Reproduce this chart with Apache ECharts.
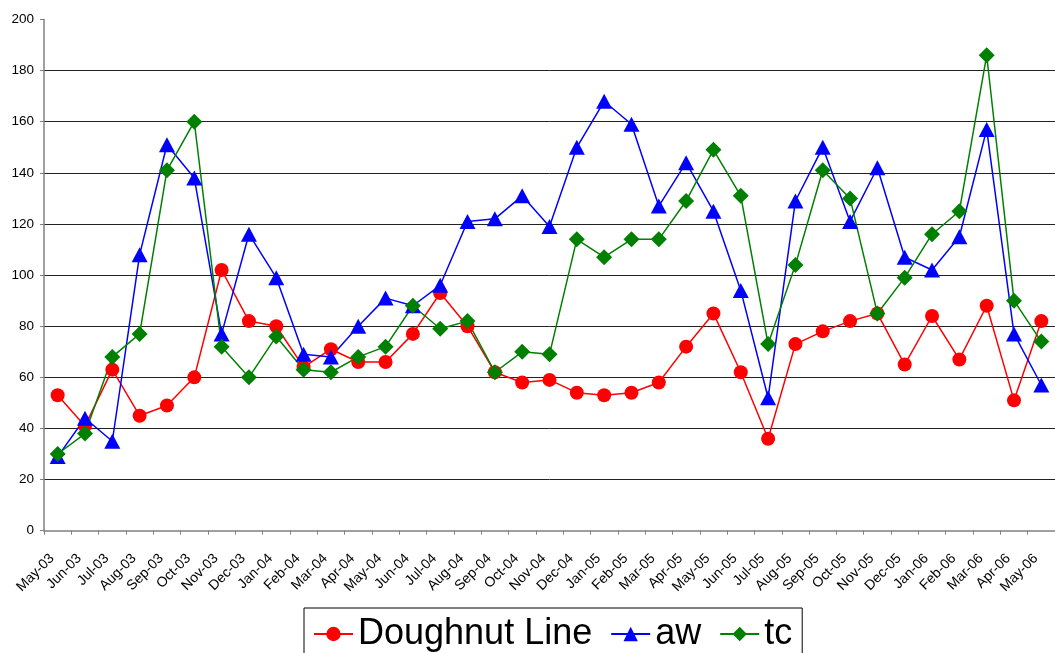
<!DOCTYPE html>
<html>
<head>
<meta charset="utf-8">
<script src="https://cdn.jsdelivr.net/npm/echarts@6/dist/echarts.min.js"></script>
<style>
html,body{margin:0;padding:0;background:#fff;}
#chart{width:1055px;height:653px;}
</style>
</head>
<body>
<div id="chart"></div>
<script>
const categories = ["May-03","Jun-03","Jul-03","Aug-03","Sep-03","Oct-03","Nov-03","Dec-03","Jan-04","Feb-04","Mar-04","Apr-04","May-04","Jun-04","Jul-04","Aug-04","Sep-04","Oct-04","Nov-04","Dec-04","Jan-05","Feb-05","Mar-05","Apr-05","May-05","Jun-05","Jul-05","Aug-05","Sep-05","Oct-05","Nov-05","Dec-05","Jan-06","Feb-06","Mar-06","Apr-06","May-06"];
const doughnutLine = [53,41,63,45,49,60,102,82,80,64,71,66,66,77,93,80,62,58,59,54,53,54,58,72,85,62,36,73,78,82,85,65,84,67,88,51,82];
const aw = [29,44,35,108,151,138,77,116,99,69,68,80,91,88,96,121,122,131,119,150,168,159,127,144,125,94,52,129,150,121,142,107,102,115,157,77,57];
const tc = [30,38,68,77,141,160,72,60,76,63,62,68,72,88,79,82,62,70,69,114,107,114,114,129,149,131,73,104,141,130,85,99,116,125,186,90,74];
const yTicks = {min:0, max:200, interval:20};

const font = "'Liberation Sans', Arial, sans-serif";
const chart = echarts.init(document.getElementById('chart'), null, {renderer:'canvas'});
chart.setOption({
  animation:false,
  backgroundColor:'#fff',
  grid:{left:44, right:-5, top:19.5, bottom:122.3, containLabel:false},
  legend:{
    left:304, top:608,
    orient:'horizontal',
    backgroundColor:'#fff',
    borderColor:'#000', borderWidth:1,
    padding:[8,10,20,9],
    itemGap:18, itemWidth:39, itemHeight:18,
    lineStyle:{width:2},
    textStyle:{fontSize:36, fontFamily:font, color:'#000'},
    data:['Doughnut Line','aw','tc']
  },
  xAxis:{
    type:'category', data:categories, boundaryGap:true,
    axisLine:{show:true, lineStyle:{color:'#808080', width:1.5}},
    axisTick:{show:true, alignWithLabel:false, length:4, lineStyle:{color:'#808080'}},
    axisLabel:{rotate:45, interval:0, fontSize:14, fontFamily:font, color:'#000', margin:20, padding:[0,8,0,0]},
    splitLine:{show:false}
  },
  yAxis:{
    type:'value', min:yTicks.min, max:yTicks.max, interval:yTicks.interval,
    axisLine:{show:true, lineStyle:{color:'#808080', width:1.5}},
    axisTick:{show:true, length:4, lineStyle:{color:'#808080'}},
    axisLabel:{fontSize:13.5, fontFamily:font, color:'#000', margin:10},
    splitLine:{show:true, showMinLine:false, showMaxLine:false, lineStyle:{color:'#222', width:1}}
  },
  series:[
    {name:'Doughnut Line', type:'line', data:doughnutLine, symbol:'circle', symbolSize:14,
     lineStyle:{color:'#ff0000', width:1.5}, itemStyle:{color:'#ff0000'}},
    {name:'aw', type:'line', data:aw, symbol:'triangle', symbolSize:[16,15],
     lineStyle:{color:'#0000ff', width:1.5}, itemStyle:{color:'#0000ff'}},
    {name:'tc', type:'line', data:tc, symbol:'diamond', symbolSize:[16,16],
     lineStyle:{color:'#008000', width:1.5}, itemStyle:{color:'#008000'}}
  ]
});
</script>
</body>
</html>
